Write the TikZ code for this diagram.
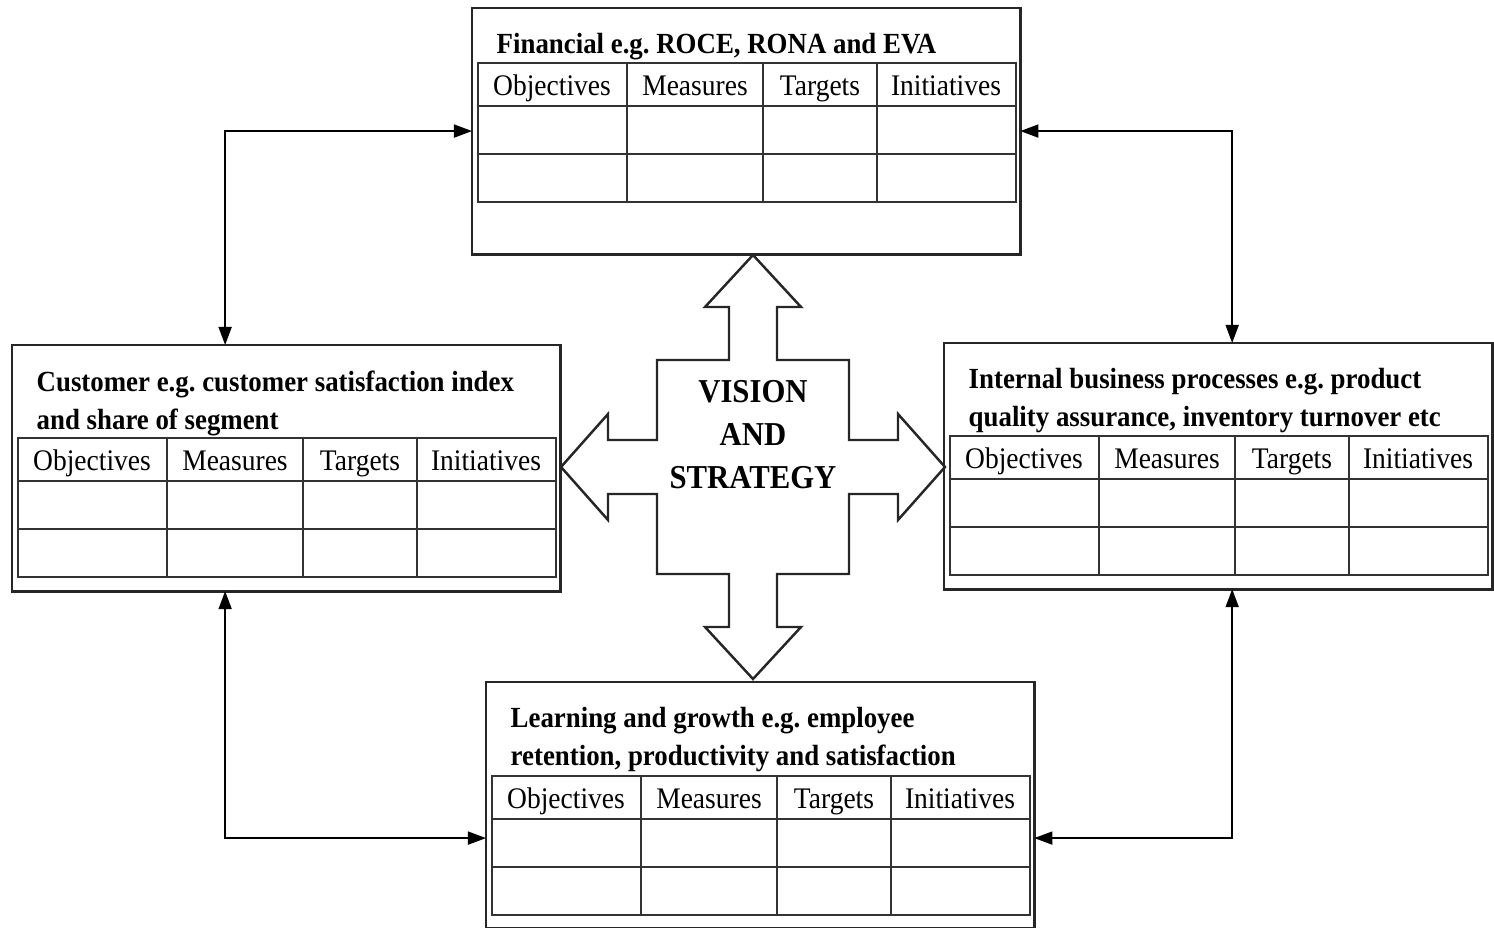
\documentclass[tikz,border=0pt]{standalone}
\usepackage{fontspec}
\setmainfont[FakeStretch=0.92]{Liberation Serif}
\usetikzlibrary{arrows.meta}
\frenchspacing

\begin{document}
\begin{tikzpicture}[x=0.01cm,y=-0.01cm,
  box/.style={draw=black!85,line width=.8pt,inner sep=0,outer sep=0,minimum width=5.48cm,minimum height=2.46cm,anchor=north west},
  grid/.style={draw=black!80,line width=.6pt},
  head/.style={font=\fontsize{8.5}{10}\selectfont,inner sep=0,text height=1.6ex,text depth=.3ex},
  title/.style={font=\fontsize{8.3}{10.8}\selectfont\bfseries,anchor=north west,align=left,inner sep=0},
  link/.style={line width=.5pt,{Triangle[length=.18cm,width=.13cm]}-{Triangle[length=.18cm,width=.13cm]}}]
\useasboundingbox (0,0) rectangle (1494,928);
\foreach \n/\bx/\by/\top/\txt in {
    fin/472/8/55/{Financial e.g. ROCE, RONA and EVA},
    cus/12/345/93/{Customer e.g. customer satisfaction index\\and share of segment},
    int/944/343/93/{Internal business processes e.g. product\\quality assurance, inventory turnover etc},
    lea/486/682/94/{Learning and growth e.g. employee\\retention, productivity and satisfaction}}
{
  \node[box] (\n) at (\bx,\by) {};
  \node[title] (\n-t) at (\bx+24,\by+25) {\txt};
  \draw[grid] (\bx+6,\by+\top) rectangle (\bx+544,\by+\top+139);
  \foreach \dy in {43,91}
    \draw[grid] (\bx+6,\by+\top+\dy) -- (\bx+544,\by+\top+\dy);
  \foreach \dx in {155,291,405}
    \draw[grid] (\bx+\dx,\by+\top) -- (\bx+\dx,\by+\top+139);
  \foreach \cx/\h in {80/Objectives,223/Measures,348/Targets,474/Initiatives}
    \node[head] (\n-\h) at (\bx+\cx,\by+\top+22) {\h};
}
\begin{scope}[shift={(753,467)}]
\draw[line width=.7pt,draw=black!85] (0,-212) -- (48,-160) -- (24,-160) -- (24,-107) -- (96,-107) -- (96,-27)
  -- (145,-27) -- (145,-53) -- (192,0) -- (145,53) -- (145,27) -- (96,27) -- (96,107)
  -- (24,107) -- (24,160) -- (48,160) -- (0,212) -- (-48,160) -- (-24,160) -- (-24,107)
  -- (-96,107) -- (-96,27) -- (-145,27) -- (-145,53) -- (-192,0) -- (-145,-53) -- (-145,-27)
  -- (-96,-27) -- (-96,-107) -- (-24,-107) -- (-24,-160) -- (-48,-160) -- cycle;
\end{scope}
\node[font=\fontsize{9.5}{12.2}\selectfont\bfseries,align=center] (vis) at (753,435) {VISION\\AND\\STRATEGY};
\draw[link] (fin.west) -| ([xshift=-.61cm]cus.north);
\draw[link] (fin.east) -| ([xshift=.14cm]int.north);
\draw[link] ([xshift=-.61cm]cus.south) |- ([yshift=-.33cm]lea.west);
\draw[link] ([xshift=.14cm]int.south) |- ([yshift=-.33cm]lea.east);
\end{tikzpicture}
\end{document}
